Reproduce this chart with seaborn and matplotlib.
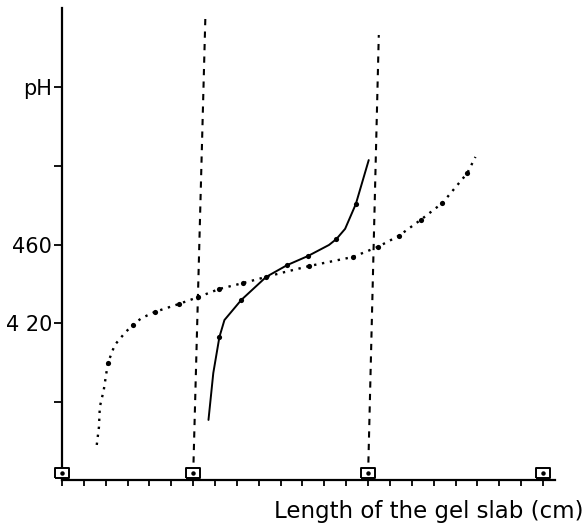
import matplotlib
matplotlib.use("Agg")
import matplotlib.pyplot as plt
import seaborn as sns
import numpy as np
import pandas as pd

# ---- data (x in cm along gel slab, y in pH x 100) ----
dotted_x = [1.59, 1.69, 1.73, 1.91, 2.10, 2.41, 2.87, 3.23, 3.64, 4.24, 5.33, 6.24,
            7.20, 8.29, 9.34, 10.02, 11.30, 13.30, 14.44, 15.40, 16.40, 17.40, 18.54, 18.91]
dotted_y = [358.3, 367.4, 377.6, 386.2, 399.9, 409.0, 415.1, 419.2, 422.7, 425.8, 429.8, 433.4,
            437.5, 440.5, 443.6, 445.6, 449.1, 453.7, 458.8, 464.4, 472.5, 481.1, 496.3, 504.5]
dotted_marked = [4, 7, 9, 10, 11, 12, 13, 16, 17, 18, 19, 20, 21, 22]

solid_x = [6.70, 6.92, 7.20, 7.43, 8.20, 9.34, 10.30, 11.25, 12.21, 12.55, 12.95, 13.44, 14.03]
solid_y = [371.0, 394.8, 413.1, 421.7, 431.9, 443.6, 449.6, 454.2, 459.8, 462.8, 468.0, 480.6, 502.9]
solid_marked = [2, 4, 5, 6, 7, 9, 11]

# slanted boundary lines (bottom x, top x, bottom y, top y)
boundary1_x = [6.0, 6.56]
boundary1_y = [343.0, 576.5]
boundary2_x = [14.0, 14.49]
boundary2_y = [343.0, 566.4]

slot_positions = [0, 6, 14, 22]

y_ticks = [380, 420, 460, 500, 540]
y_ticklabels = ["", "4 20", "460", "", "pH"]
x_ticks = list(range(0, 23))
x_label = "Length of the gel slab (cm)"

# ---- plot ----
sns.set_style("ticks")
plt.rcParams['font.family'] = ['DejaVu Sans']
plt.rcParams['text.color'] = 'black'
plt.rcParams['xtick.color'] = 'black'
plt.rcParams['ytick.color'] = 'black'
plt.rcParams['axes.labelcolor'] = 'black'
plt.rcParams['axes.edgecolor'] = 'black'

fig = plt.figure(figsize=(5.84, 5.23), dpi=100)
ax = fig.add_axes([62 / 584, 0.0822, (555 - 62) / 584, 0.9025])

dfd = pd.DataFrame({"x": dotted_x, "y": dotted_y})
dfs = pd.DataFrame({"x": solid_x, "y": solid_y})

sns.lineplot(data=dfd, x="x", y="y", sort=False, estimator=None, ax=ax,
             color="black", linewidth=1.7, linestyle=(0, (1, 2.4)))
sns.scatterplot(data=dfd.iloc[dotted_marked], x="x", y="y", ax=ax,
                color="black", s=14, marker="o", linewidth=0)

sns.lineplot(data=dfs, x="x", y="y", sort=False, estimator=None, ax=ax,
             color="black", linewidth=1.4)
sns.scatterplot(data=dfs.iloc[solid_marked], x="x", y="y", ax=ax,
                color="black", s=14, marker="o", linewidth=0)

for bx, by in [(boundary1_x, boundary1_y), (boundary2_x, boundary2_y)]:
    sns.lineplot(x=bx, y=by, sort=False, estimator=None, ax=ax,
                 color="black", linewidth=1.5, linestyle=(0, (3, 3)))

xlim = (0.09, 22.55)
ylim = (340.5, 580.1)
ax.set_xlim(*xlim)
ax.set_ylim(*ylim)

rect_marker = [(-1.35, -1.0), (1.35, -1.0), (1.35, 1.0), (-1.35, 1.0), (-1.35, -1.0)]
slot_y = [344.0] * len(slot_positions)
ax.plot(slot_positions, slot_y, linestyle="none", marker=rect_marker, markersize=10,
        markerfacecolor="white", markeredgecolor="black", markeredgewidth=1.4,
        clip_on=False, zorder=5)
ax.plot(slot_positions, slot_y, linestyle="none", marker="o", markersize=2.2,
        color="black", clip_on=False, zorder=6)

ax.set_xticks(x_ticks)
ax.set_xticklabels([])
ax.set_yticks(y_ticks)
ax.set_yticklabels(y_ticklabels, fontsize=15)
ax.tick_params(axis="x", direction="out", length=4, width=1.3)
ax.tick_params(axis="y", direction="out", length=6, width=1.3, pad=1)

for side in ["top", "right"]:
    ax.spines[side].set_visible(False)
for side in ["left", "bottom"]:
    ax.spines[side].set_linewidth(1.6)

ax.set_xlabel(x_label, fontsize=16.5, ha="right")
ax.xaxis.set_label_coords((583 - 62) / 493, -0.042)
ax.set_ylabel("")

fig.savefig("out.png", dpi=100)
